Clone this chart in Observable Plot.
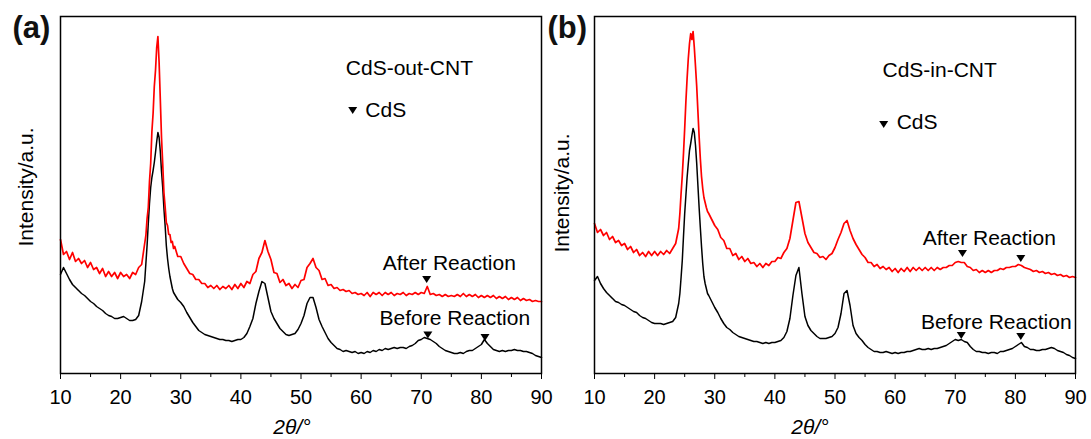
<!DOCTYPE html>
<html><head><meta charset="utf-8">
<script src="https://cdn.jsdelivr.net/npm/d3@7"></script>
<script src="https://cdn.jsdelivr.net/npm/@observablehq/plot@0.6"></script>
<style>
body{margin:0;background:#fff;}
#wrap{display:flex;width:1091px;height:439px;background:#fff;}
#wrap svg{overflow:visible;}
</style></head><body><div id="wrap"></div>
<script>
// 2θ sampling positions (degrees)
const theta = [
 10,10.5,11,11.5,12,12.5,13,13.5,14,14.5,
 15,15.5,16,16.5,17,17.5,18,18.5,19,19.5,
 20,20.5,21,21.5,22,22.5,23,23.5,
 24,24.2,24.4,24.6,24.8,25,25.2,25.4,25.6,25.8,
 26,26.2,26.4,26.6,26.8,27,27.2,27.4,27.6,27.8,
 28,28.2,28.4,28.6,28.8,29,29.5,
 30,30.5,31,31.5,32,32.5,33,33.5,34,34.5,
 35,35.5,36,36.5,37,37.5,38,38.5,39,39.5,
 40,40.5,41,41.5,42,42.5,43,43.5,44,44.5,
 45,45.5,46,46.5,47,47.5,48,48.5,49,49.5,
 50,50.5,51,51.5,52,52.5,53,53.5,54,54.5,
 55,55.5,56,56.5,57,57.5,58,58.5,59,59.5,
 60,60.5,61,61.5,62,62.5,63,63.5,64,64.5,
 65,65.5,66,66.5,67,67.5,68,68.5,69,69.5,
 70,70.5,71,71.5,72,72.5,73,73.5,74,74.5,
 75,75.5,76,76.5,77,77.5,78,78.5,79,79.5,
 80,80.5,81,81.5,82,82.5,83,83.5,84,84.5,
 85,85.5,86,86.5,87,87.5,88,88.5,89,89.5,
 90
];

// (a) CdS-out-CNT, After Reaction (red)
const outAfter = [
 134,119,122,114,121,112,115,110,113,106,
 111,104,106,100,105,97,102,97,101,95,
 101,97,99,95,101,99,106,109,
 130,138,155,166,192,210,242,260,287,303,
 326,337,311,274,236,210,181,167,151,148,
 139,139,131,132,125,127,117,
 117,110,105,100,99,94,94,90,90,86,
 88,85,88,84,87,85,88,84,89,85,
 90,86,92,90,99,102,115,121,133,122,
 114,101,100,91,94,88,90,85,89,86,
 93,94,106,110,115,106,103,94,95,88,
 89,85,86,83,84,82,83,80,81,79,
 80,78,81,77,81,79,81,78,81,79,
 81,78,80,79,81,78,80,79,81,79,
 81,80,87,79,80,78,79,77,79,77,
 78,77,79,77,80,77,79,77,79,76,
 78,76,78,76,78,75,77,75,77,74,
 76,74,76,73,75,73,74,72,73,72,
 72
];
// (a) CdS-out-CNT, Before Reaction (black)
const outBefore = [
 99,106,100,94,89,86,83,80,78,75,
 72,70,67,65,63,60,58,57,55,55,
 56,57,55,53,53,54,58,72,
 92,110,128,150,170,186,196,203,211,221,
 232,241,236,222,202,186,165,148,128,115,
 105,97,91,85,81,79,74,
 71,67,61,56,51,47,43,41,39,38,
 37,36,35,34,34,33,33,32,33,34,
 34,36,40,47,55,70,82,92,90,76,
 62,55,50,45,42,39,38,39,40,44,
 50,58,70,76,76,66,54,47,41,35,
 31,28,25,24,22,23,22,21,22,20,
 21,20,22,21,23,22,24,23,25,24,
 25,26,25,26,26,25,27,28,30,33,
 34,36,35,34,32,30,27,25,23,22,
 21,20,20,21,20,22,23,23,25,27,
 29,34,30,27,24,23,22,23,22,23,
 23,24,23,23,22,22,21,20,18,17,
 16
];
// (b) CdS-in-CNT, After Reaction (red)
const inAfter = [
 150,141,144,138,141,134,137,131,133,128,
 130,124,127,121,124,118,121,117,122,118,
 122,118,122,119,123,120,125,130,
 145,160,180,198,220,245,272,295,315,330,
 340,334,342,326,307,287,262,237,215,197,
 185,176,171,166,162,160,154,
 148,144,136,133,125,125,118,120,114,117,
 112,115,110,111,107,110,106,110,108,112,
 112,116,115,121,125,135,153,171,172,156,
 140,131,126,121,120,116,117,114,118,120,
 126,134,141,150,153,143,135,129,124,119,
 116,111,111,107,109,105,107,104,106,102,
 105,101,105,102,106,102,106,103,106,103,
 106,103,106,103,106,104,106,106,108,108,
 111,112,111,111,107,106,103,104,101,103,
 101,103,101,103,103,105,104,106,106,107,
 107,109,108,106,105,104,102,103,101,102,
 100,101,99,100,98,99,97,98,96,97,
 96
];
// (b) CdS-in-CNT, Before Reaction (black)
const inBefore = [
 93,97,90,85,81,78,75,72,71,69,
 68,66,64,62,61,58,56,55,53,51,
 50,50,50,49,50,51,52,56,
 70,80,96,113,137,160,178,196,210,223,
 230,238,245,241,228,210,188,166,146,127,
 110,97,90,85,80,78,72,
 66,61,55,50,46,44,41,39,37,36,
 35,34,33,32,32,31,30,31,30,31,
 31,32,33,36,42,55,78,98,106,80,
 57,48,43,40,37,35,35,35,36,37,
 40,46,60,80,83,68,48,40,36,33,
 29,26,24,22,22,21,21,22,21,20,
 21,20,21,21,22,22,23,24,25,24,
 24,25,24,25,25,26,27,28,30,32,
 34,33,34,32,31,27,24,22,22,21,
 21,20,21,21,20,22,22,23,24,25,
 27,29,31,27,26,24,24,23,23,24,
 24,25,26,25,23,22,21,19,18,16,
 15
];

// CdS reflection markers (▼) incl. the legend symbol
const markOutTheta = [70.9, 71.1, 80.6, 58.6];
const markOutInt   = [94, 38.5, 36, 263];
const markInTheta  = [71.2, 80.9, 71.0, 80.9, 58.1];
const markInInt    = [120, 115, 38, 37, 249];

// annotation texts
const textOut      = ["CdS-out-CNT", "CdS", "After Reaction", "Before Reaction"];
const textOutTheta = [57.45, 60.7, 63.6, 63.06];
const textOutInt   = [305, 263, 110, 55];
const textIn       = ["CdS-in-CNT", "CdS", "After Reaction", "Before Reaction"];
const textInTheta  = [57.9, 60.25, 64.6, 64.3];
const textInInt    = [303, 251, 135, 51.6];

const majorTicks = [10, 20, 30, 40, 50, 60, 70, 80, 90];
const minorTicks = [15, 25, 35, 45, 55, 65, 75, 85];

[outAfter, outBefore, inAfter, inBefore].forEach((s, i) => {
  if (s.length !== theta.length) throw new Error("length mismatch " + i + ": " + s.length + " vs " + theta.length);
});

const series = vals => theta.map((t, i) => ({theta: t, intensity: vals[i]}));
const points = (ts, vs) => ts.map((t, i) => ({theta: t, intensity: vs[i]}));
const labels = (txt, ts, vs) => txt.map((s, i) => ({text: s, theta: ts[i], intensity: vs[i]}));

const triDown = {
  draw(ctx, size) {
    const s = Math.sqrt(size);
    const w = s * 0.77, h = s * 0.6;
    ctx.moveTo(-w, -h); ctx.lineTo(w, -h); ctx.lineTo(0, h); ctx.closePath();
  }
};

const FONT = "Arial, 'Liberation Sans', sans-serif";

function panel(cfg) {
  return Plot.plot({
    width: cfg.width, height: 439,
    marginLeft: cfg.ml, marginRight: cfg.mr, marginTop: 16, marginBottom: 66,
    style: {fontFamily: FONT, fontSize: "20px", color: "#000", background: "transparent", overflow: "visible"},
    x: {domain: [10, 90], label: null},
    y: {domain: [0, 357], axis: null},
    marks: [
      Plot.axisX(majorTicks, {tickSize: 6, tickPadding: 10, tickFormat: d => String(d), label: null}),
      Plot.axisX(minorTicks, {tickSize: 4, tickFormat: () => "", label: null}),
      Plot.line(cfg.black, {x: "theta", y: "intensity", stroke: "#000", strokeWidth: 1.5}),
      Plot.line(cfg.red, {x: "theta", y: "intensity", stroke: "#ff0000", strokeWidth: 1.7}),
      Plot.dot(cfg.marks, {x: "theta", y: "intensity", symbol: triDown, r: 3.3, fill: "#000", stroke: null}),
      Plot.text(cfg.texts, {x: "theta", y: "intensity", text: "text", textAnchor: "start", lineAnchor: "middle", fontSize: 21, fill: "#000"}),
      Plot.text(["Intensity/a.u."], {frameAnchor: "left", textAnchor: "middle", lineAnchor: "middle", rotate: -90, dx: cfg.ylDx, dy: cfg.ylDy, fontSize: 21, fill: "#000"}),
      Plot.text(["2θ/°"], {frameAnchor: "bottom", textAnchor: "middle", lineAnchor: "middle", dx: cfg.xlDx, dy: 54, fontSize: 21, fontStyle: "italic", fill: "#000"}),
      Plot.text([cfg.tag], {frameAnchor: "top-left", textAnchor: "start", lineAnchor: "middle", dx: cfg.tagDx, dy: 12, fontSize: 31, fontWeight: "bold", fill: "#111"}),
      Plot.frame({stroke: "#000", strokeWidth: 1.5})
    ]
  });
}

const wrap = document.getElementById("wrap");
wrap.append(panel({
  width: 545, ml: 60, mr: 4,
  red: series(outAfter), black: series(outBefore),
  marks: points(markOutTheta, markOutInt),
  texts: labels(textOut, textOutTheta, textOutInt),
  ylDx: -34, ylDy: -8, xlDx: -9, tag: "(a)", tagDx: -48
}));
wrap.append(panel({
  width: 546, ml: 49, mr: 16,
  red: series(inAfter), black: series(inBefore),
  marks: points(markInTheta, markInInt),
  texts: labels(textIn, textInTheta, textInInt),
  ylDx: -32, ylDy: -2, xlDx: -25, tag: "(b)", tagDx: -47
}));
</script>
</body></html>
